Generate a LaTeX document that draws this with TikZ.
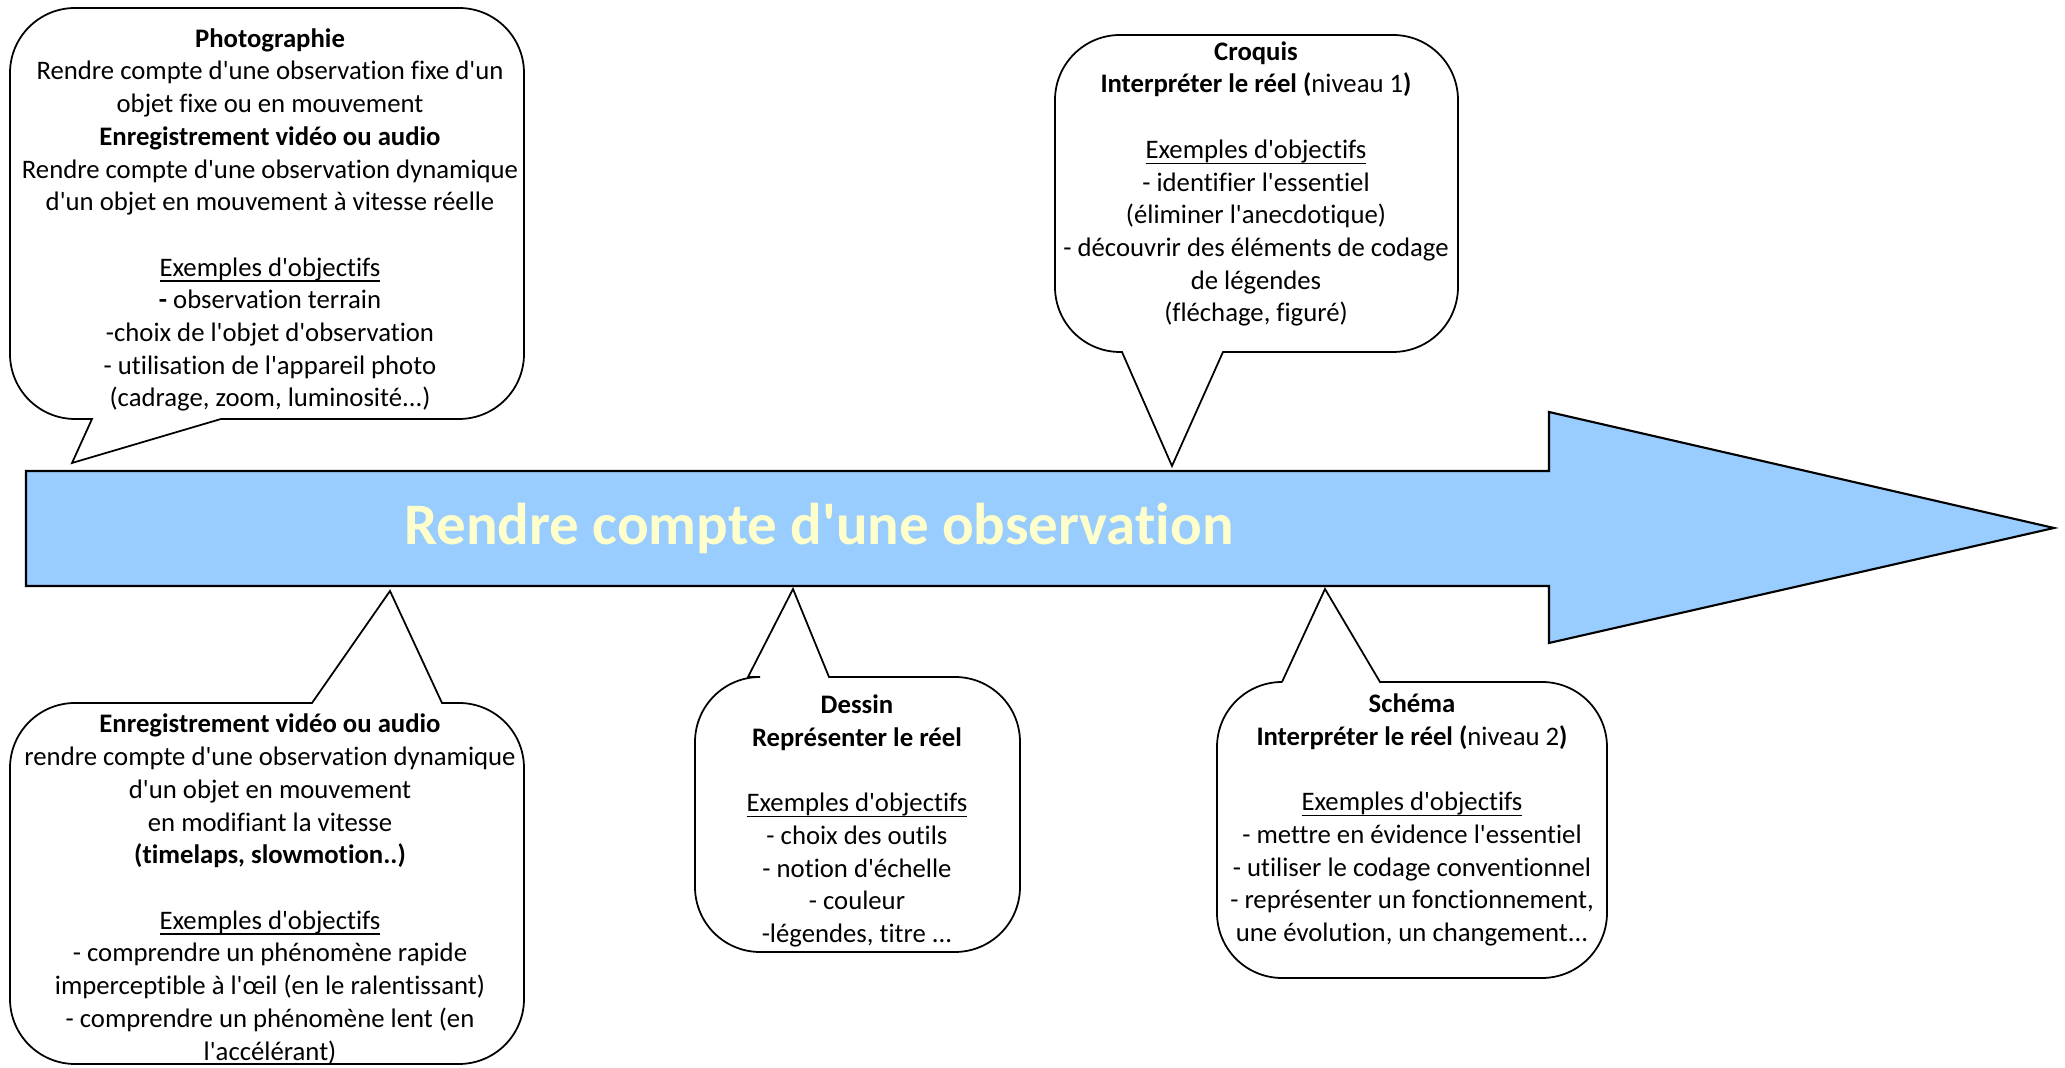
\documentclass[tikz,border=0pt]{standalone}
\usepackage{fontspec}
\setmainfont{Carlito}[Ligatures={TeXOff,NoCommon}]
\usetikzlibrary{positioning}

\definecolor{arrowblue}{HTML}{99CCFF}
\definecolor{titleyellow}{HTML}{FFFFCC}
\newcommand{\ulexemples}{\underline{\smash{Exemples d'objectifs}}}

\begin{document}
\begin{tikzpicture}[x=0.01cm, y=-0.01cm]
            \tikzstyle{every node}=[align=center, inner sep=0pt, font=\fontsize{7.6pt}{9.3pt}\selectfont, text=black]
            \tikzstyle{bubble}=[draw=black, fill=white, line width=0.5pt, rounded corners=0.65cm]
            \tikzstyle{bigarrow}=[draw=black, fill=arrowblue, line width=0.6pt, line join=miter]

            \useasboundingbox (0,0) rectangle (2065,1068);

            % the big arrow
            \draw[bigarrow] (26,471) -- (1549,471) -- (1549,412) -- (2054,528)
                -- (1549,643) -- (1549,586) -- (26,586) -- cycle;
            \node[font=\fontsize{16.75pt}{20pt}\selectfont\bfseries, text=titleyellow] (title) at (819,528) {Rendre compte d'une observation};

            % pointer tips on the arrow
            \coordinate (photo tip) at (72,463);
            \coordinate (croquis tip) at (1172,466);
            \coordinate (video tip) at (390,591);
            \coordinate (dessin tip) at (793,589);
            \coordinate (schema tip) at (1325,589);

            % callouts above
            \draw[bubble] (221,419) -- (524,419) -- (524,8) -- (10,8) -- (10,419)
                [sharp corners] -- (92,419) -- (photo tip) -- cycle;
            \draw[bubble] (1223,352) -- (1458,352) -- (1458,35) -- (1055,35) -- (1055,352)
                [sharp corners] -- (1122,352) -- (croquis tip) -- cycle;

            % callouts below
            \draw[bubble] (312,703) -- (10,703) -- (10,1064) -- (524,1064) -- (524,703)
                [sharp corners] -- (442,703) -- (video tip) -- cycle;
            \draw[bubble] (748,677) -- (695,677) -- (695,952) -- (1020,952) -- (1020,677)
                [sharp corners] -- (829,677) -- (dessin tip) -- cycle;
            \draw[bubble] (1282,682) -- (1217,682) -- (1217,978) -- (1607,978) -- (1607,682)
                [sharp corners] -- (1380,682) -- (schema tip) -- cycle;

            \node (photo) at (270,220) {\textbf{Photographie}\\
                Rendre compte d'une observation fixe d'un\\
                objet fixe ou en mouvement\\
                \textbf{Enregistrement vidéo ou audio}\\
                Rendre compte d'une observation dynamique\\
                d'un objet en mouvement à vitesse réelle\\[9.3pt]
                \ulexemples\\
                \textbf{-} observation terrain\\
                -choix de l'objet d'observation\\
                - utilisation de l'appareil photo\\
                (cadrage, zoom, luminosité...)};

            \node (croquis) at (1256,184) {\textbf{Croquis}\\
                \textbf{Interpréter le réel (}niveau 1\textbf{)}\\[9.3pt]
                \ulexemples\\
                - identifier l'essentiel\\
                (éliminer l'anecdotique)\\
                - découvrir des éléments de codage\\
                de légendes\\
                (fléchage, figuré)};

            \node (video) at (270,889) {\textbf{Enregistrement vidéo ou audio}\\
                rendre compte d'une observation dynamique\\
                d'un objet en mouvement\\
                en modifiant la vitesse\\
                \textbf{(timelaps, slowmotion..)}\\[9.3pt]
                \ulexemples\\
                - comprendre un phénomène rapide\\
                imperceptible à l'œil (en le ralentissant)\\
                - comprendre un phénomène lent (en\\
                l'accélérant)};

            \node (dessin) at (857,821) {\textbf{Dessin}\\
                \textbf{Représenter le réel}\\[9.3pt]
                \ulexemples\\
                - choix des outils\\
                - notion d'échelle\\
                - couleur\\
                -légendes, titre ...};

            \node (schema) at (1412,820) {\textbf{Schéma}\\
                \textbf{Interpréter le réel (}niveau 2\textbf{)}\\[9.3pt]
                \ulexemples\\
                - mettre en évidence l'essentiel\\
                - utiliser le codage conventionnel\\
                - représenter un fonctionnement,\\
                une évolution, un changement...};
          \end{tikzpicture}
\end{document}
